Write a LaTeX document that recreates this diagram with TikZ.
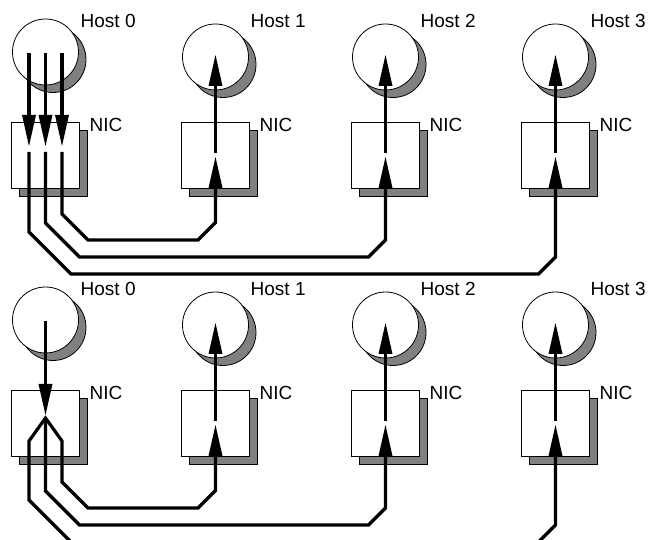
\documentclass[tikz,border=0pt]{standalone}
\usepackage{fontspec}
\setmainfont{Liberation Sans}
\usetikzlibrary{arrows.meta}
\definecolor{shadowgray}{RGB}{128,128,128}
\begin{document}
\begin{tikzpicture}[x=1pt,y=-1pt,
  host/.style={circle, draw=black, line width=0.8pt, fill=white, minimum size=66pt, inner sep=0pt},
  hostshadow/.style={circle, draw=black, line width=0.8pt, fill=shadowgray, minimum size=66pt, inner sep=0pt},
  nic/.style={rectangle, draw=black, line width=0.7pt, fill=white, minimum width=68pt, minimum height=66pt, inner sep=0pt},
  nicshadow/.style={rectangle, draw=black, line width=0.7pt, fill=shadowgray, minimum width=68pt, minimum height=66pt, inner sep=0pt},
  flow/.style={line width=3.2pt, line join=miter},
  tipshape/.tip={Triangle[length=31pt,width=14pt,line width=0pt]},
  flowarrow/.style={flow, -tipshape},
  flowboth/.style={flow, tipshape-tipshape},
  lbl/.style={anchor=base west, inner sep=0pt, font=\fontsize{19pt}{22pt}\selectfont}
]
\useasboundingbox (0,0) rectangle (649,540);
\clip (0,0) rectangle (649,540);

% hosts, NICs and labels in both panels
\foreach \p/\d in {0/0,1/268}{
  \foreach \i in {0,1,2,3}{
    \pgfmathsetmacro\xc{45.5+170*\i}
    \pgfmathsetmacro\cy{ifthenelse(\i==0,52,57)+\d}
    \pgfmathsetmacro\ny{155+\d}
    \node[hostshadow] (hs\p\i) at (\xc+7.5,\cy+7.5) {};
    \node[host] (h\p\i) at (\xc,\cy) {};
    \node[nicshadow] (ns\p\i) at (\xc+8,\ny+8) {};
    \node[nic] (n\p\i) at (\xc,\ny) {};
    \node[lbl] (hl\p\i) at (\xc+35,28+\d) {Host \i};
    \node[lbl] (nl\p\i) at (\xc+44,132+\d) {NIC};
  }
}

% receiving hosts: NIC up to host
\foreach \p in {0,1}{
  \foreach \i in {1,2,3}{
    \draw[flowarrow] ([yshift=2pt]n\p\i.center) -- ([yshift=2pt]h\p\i.center);
  }
}

% ---------- top panel ----------
\foreach \dx in {-16.5,0,16.5}{
  \draw[flowarrow] ([xshift=\dx pt,yshift=-1pt]h00.center) -- ([xshift=\dx pt,yshift=9pt]n00.center);
}
\draw[flowarrow] ([xshift=16.5pt,yshift=3pt]n00.center) -- (62,214) -- (88,240) -- (198,240)
  -- (215.5,222.5) -- ([yshift=-2pt]n01.center);
\draw[flowarrow] ([yshift=3pt]n00.center) -- (45.5,223) -- (79.5,257) -- (368.5,257)
  -- (385.5,240) -- ([yshift=-2pt]n02.center);
\draw[flowarrow] ([xshift=-16.5pt,yshift=3pt]n00.center) -- (29,232) -- (71,274) -- (538.5,274)
  -- (555.5,257) -- ([yshift=-2pt]n03.center);

% ---------- bottom panel ----------
\coordinate (split) at (45.5,418);
\draw[flowarrow] ([yshift=-1pt]h10.center) -- ([yshift=8pt]n10.center);
\draw[flowboth] ([yshift=-2pt]n13.center) -- (555.5,525) -- (538.5,542) -- (71,542) -- (29,500)
  -- (29,441) -- (split) -- (62,441) -- (62,482) -- (88,508) -- (198,508)
  -- (215.5,490.5) -- ([yshift=-2pt]n11.center);
\draw[flowarrow] (split) -- (45.5,491) -- (79.5,525) -- (368.5,525)
  -- (385.5,508) -- ([yshift=-2pt]n12.center);
\end{tikzpicture}
\end{document}
